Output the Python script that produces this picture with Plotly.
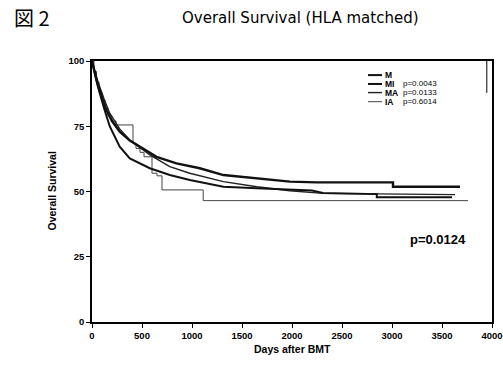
import plotly.graph_objects as go

# ---- data ----
days_M = [0, 50, 100, 144, 200, 277, 378, 477, 645, 845, 1078, 1314, 1648, 1979, 2246, 3010, 3010, 3680]
surv_M = [100, 92, 86, 81.2, 77, 72.9, 69.5, 67.2, 63.3, 60.8, 58.9, 56.3, 55.0, 53.8, 53.5, 53.5, 51.8, 51.8]

days_MI = [0, 60, 120, 177, 277, 378, 578, 778, 978, 1314, 1648, 2000, 2200, 2310, 2848, 2848, 3600]
surv_MI = [100, 90, 82, 75, 67.2, 62.7, 58.9, 56.3, 54.4, 51.8, 51.2, 50.6, 50.4, 49.4, 49.0, 47.8, 47.8]

days_MA = [0, 60, 120, 177, 277, 378, 578, 778, 978, 1314, 1648, 1979, 2310, 2780, 3630]
surv_MA = [100, 92, 85.5, 80, 74, 69.7, 64, 59.5, 57, 53.8, 51.8, 50.3, 49.3, 49.2, 48.8]

days_IA = [0, 20, 45, 70, 100, 130, 160, 200, 240, 410, 440, 480, 520, 600, 650, 700, 1112, 3760]
surv_IA = [100, 96, 92, 88, 85, 82, 79, 77, 75.5, 68.5, 66.5, 65, 63.3, 57, 56, 50.6, 46.5, 46.5]

group_names = ["M", "MI", "MA", "IA"]
p_values = ["", "p=0.0043", "p=0.0133", "p=0.6014"]
overall_p = "p=0.0124"

x_ticks = [0, 500, 1000, 1500, 2000, 2500, 3000, 3500, 4000]
y_ticks = [0, 25, 50, 75, 100]

# ---- styles ----
styles = {
    "M": dict(color="#111111", width=2.4),
    "MI": dict(color="#111111", width=2.0),
    "MA": dict(color="#222222", width=1.4),
    "IA": dict(color="#444444", width=1.0),
}
shapes_line = {"M": "linear", "MI": "linear", "MA": "linear", "IA": "hv"}

data = {
    "M": (days_M, surv_M),
    "MI": (days_MI, surv_MI),
    "MA": (days_MA, surv_MA),
    "IA": (days_IA, surv_IA),
}

fig = go.Figure()
for name in ["IA", "MA", "MI", "M"]:
    x, y = data[name]
    fig.add_trace(go.Scatter(x=x, y=y, mode="lines", name=name,
                             line=dict(shape=shapes_line[name], **styles[name]),
                             showlegend=False, hoverinfo="skip"))

base_font = "Liberation Sans, Arial, sans-serif"
tick_font = dict(size=9.5, family=base_font, color="black", weight="bold")

fig.update_layout(
    width=503, height=365,
    margin=dict(l=92, r=11, t=61, b=43),
    paper_bgcolor="white", plot_bgcolor="white",
    font=dict(family=base_font, color="black"),
    xaxis=dict(range=[0, 4000], tickvals=x_ticks, ticktext=[str(v) for v in x_ticks],
               showgrid=False, zeroline=False, showline=True, linecolor="black",
               linewidth=1.5, mirror=True, ticks="outside", ticklen=4, tickcolor="black",
               tickfont=tick_font, automargin=False),
    yaxis=dict(range=[0, 100], tickvals=y_ticks, ticktext=[str(v) for v in y_ticks],
               showgrid=False, zeroline=False, showline=True, linecolor="black",
               linewidth=1.5, mirror=True, ticks="outside", ticklen=4, tickcolor="black",
               tickfont=tick_font, automargin=False),
)

annotations = []
shapes = []

# figure number and title
annotations.append(dict(text="図 2", xref="paper", yref="paper", x=-0.2, y=1.165,
                        xanchor="left", yanchor="middle", showarrow=False,
                        font=dict(size=20, family="Noto Sans CJK JP", color="black")))
annotations.append(dict(text="Overall Survival (HLA matched)", xref="paper", yref="paper",
                        x=0.52, y=1.165, xanchor="center", yanchor="middle", showarrow=False,
                        font=dict(size=15, family="DejaVu Sans", color="black")))

# axis titles
annotations.append(dict(text="<b>Days after BMT</b>", xref="paper", yref="paper",
                        x=0.5, y=-0.103, xanchor="center", yanchor="middle", showarrow=False,
                        font=dict(size=10.5, family=base_font)))
annotations.append(dict(text="<b>Overall Survival</b>", xref="paper", yref="paper",
                        x=-0.1025, y=0.5, xanchor="center", yanchor="middle", showarrow=False,
                        textangle=-90, font=dict(size=10.5, family=base_font)))

# manual legend
rows_y = [0.946, 0.912, 0.879, 0.844]
for name, pv, ry in zip(group_names, p_values, rows_y):
    st = styles[name]
    shapes.append(dict(type="line", xref="paper", yref="paper", x0=0.69, x1=0.725,
                       y0=ry, y1=ry, line=dict(color=st["color"], width=min(st["width"], 2))))
    annotations.append(dict(text="<b>" + name + "</b>", xref="paper", yref="paper",
                            x=0.727, y=ry, xanchor="left", yanchor="middle", showarrow=False,
                            font=dict(size=8.5, family=base_font)))
    if pv:
        annotations.append(dict(text=pv, xref="paper", yref="paper", x=0.773, y=ry,
                                xanchor="left", yanchor="middle", showarrow=False,
                                font=dict(size=8, family=base_font)))
# legend box right edge
shapes.append(dict(type="line", xref="paper", yref="paper", x0=0.987, x1=0.987,
                   y0=0.878, y1=1.0, line=dict(color="black", width=1)))

# overall p-value
annotations.append(dict(text="<b>" + overall_p + "</b>", xref="paper", yref="paper",
                        x=0.94, y=0.318, xanchor="right", yanchor="middle", showarrow=False,
                        font=dict(size=13, family=base_font)))

fig.update_layout(annotations=annotations, shapes=shapes)
fig.write_html("out.html")
